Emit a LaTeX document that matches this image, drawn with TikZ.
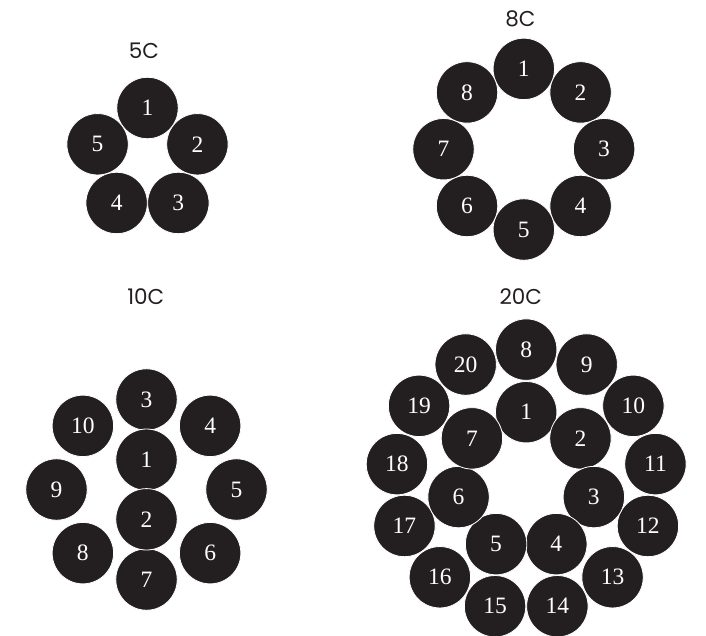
\documentclass[tikz,border=0pt]{standalone}
\usepackage{fontspec}
\setmainfont{Liberation Serif}
\newfontfamily\titlefont{Poppins}
\definecolor{cfill}{HTML}{231F20}
\begin{document}
\begin{tikzpicture}[x=1pt,y=1pt,
  wire/.style={circle, fill=cfill, draw=white, line width=0.8pt,
    minimum size=61.4pt, inner sep=0pt, text=white,
    font=\fontsize{23.5}{23.5}\selectfont},
  ttl/.style={inner sep=0pt, text=cfill, font=\titlefont\fontsize{21.5}{21.5}\selectfont}]
\useasboundingbox (0,-635) rectangle (706,0);
% titles
\node[ttl] (t5) at (144,-51.2) {5C};
\node[ttl] (t8) at (520.5,-18.8) {8C};
\node[ttl] (t10) at (145.8,-296.4) {10C};
\node[ttl] (t20) at (520.8,-296.4) {20C};
% 5C
\begin{scope}[shift={(147.5,-160.5)}]
  \foreach \n in {1,...,5}{
    \pgfmathsetmacro{\a}{90-(\n-1)*72}
    \node[wire] (c5-\n) at (\a:52.5) {\n};
  }
\end{scope}
% 8C
\begin{scope}[shift={(523.8,-149.2)}]
  \foreach \n in {1,...,8}{
    \pgfmathsetmacro{\a}{90-(\n-1)*45}
    \node[wire] (c8-\n) at (\a:80.3) {\n};
  }
\end{scope}
% 10C
\begin{scope}[shift={(146.5,-489.5)}]
  \foreach \n in {3,...,10}{
    \pgfmathsetmacro{\a}{90-(\n-3)*45}
    \node[wire] (c10-\n) at (\a:90) {\n};
  }
  \node[wire] (c10-1) at (0,29.8) {1};
  \node[wire] (c10-2) at (0,-29.8) {2};
\end{scope}
% 20C outer
\begin{scope}[shift={(526.2,-479.8)}]
  \foreach \n in {8,...,20}{
    \pgfmathsetmacro{\a}{90-(\n-8)*360/13}
    \node[wire] (c20-\n) at (\a:130.2) {\n};
  }
\end{scope}
% 20C inner
\begin{scope}[shift={(526.2,-481.6)}]
  \foreach \n in {1,...,7}{
    \pgfmathsetmacro{\a}{90-(\n-1)*360/7}
    \node[wire] (c20-\n) at (\a:69.4) {\n};
  }
\end{scope}
\end{tikzpicture}
\end{document}
